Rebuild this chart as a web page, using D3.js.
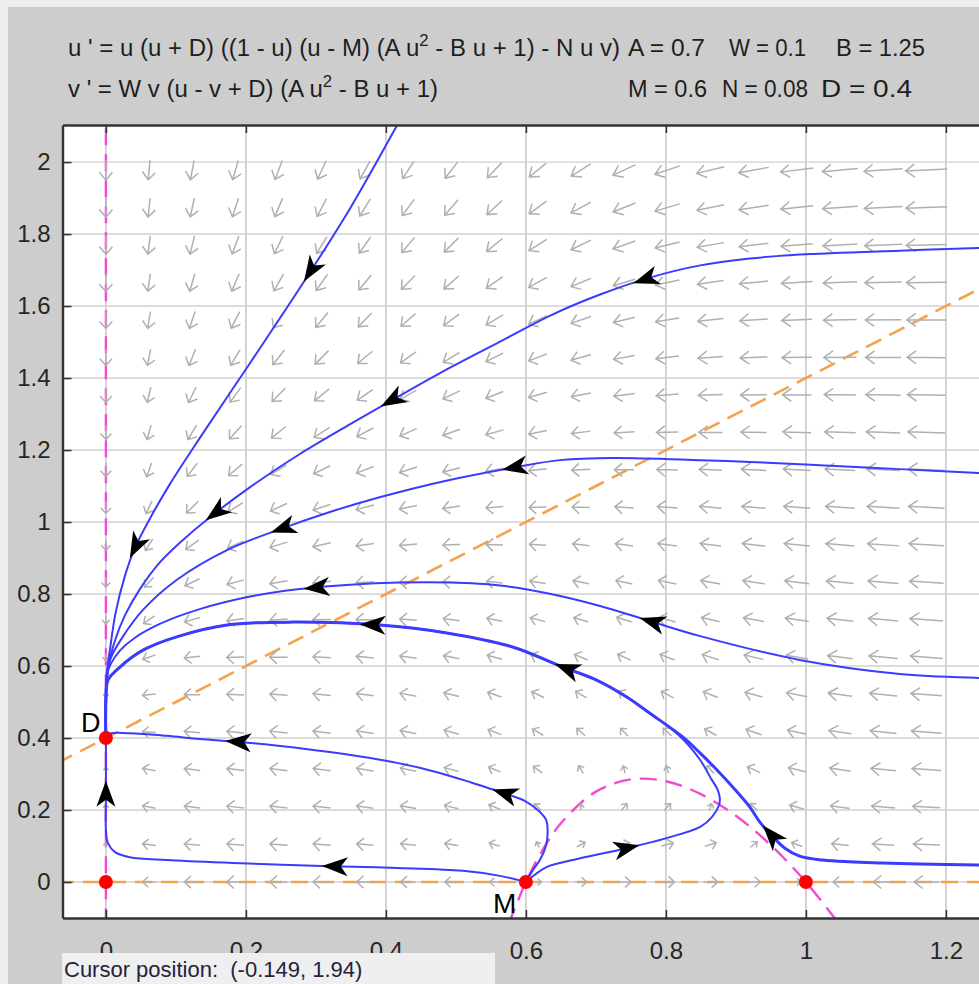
<!DOCTYPE html>
<html>
<head>
<meta charset="utf-8">
<script src="https://cdn.jsdelivr.net/npm/d3@7"></script>
<style>
  body { margin: 0; background: #fff; }
  svg { display: block; font-family: "Liberation Sans", Arial, sans-serif; }
</style>
</head>
<body>
<svg width="979" height="984"></svg>
<script>
// model parameters (as printed in the header)
const A = 0.7, W = 0.1, B = 1.25, M = 0.6, N = 0.08, D = 0.4;
const paramsRow1 = [["A", "0.7"], ["W", "0.1"], ["B", "1.25"]];
const paramsRow2 = [["M", "0.6"], ["N", "0.08"], ["D", "0.4"]];

const xTicks = [0, 0.2, 0.4, 0.6, 0.8, 1, 1.2];
const yTicks = [0, 0.2, 0.4, 0.6, 0.8, 1, 1.2, 1.4, 1.6, 1.8, 2];

// equilibria
const equilibria = [
  {u: 0, v: 0, label: ""},
  {u: 0, v: 0.4, label: "D"},
  {u: 0.6, v: 0, label: "M"},
  {u: 1, v: 0, label: ""}
];

// nullclines
const uNullAxis = [[0, -0.12], [0, 2.12]];
const uNullCurve = [[0.575, -0.118], [0.6, 0], [0.62, 0.076], [0.65, 0.163], [0.7, 0.251],
  [0.75, 0.285], [0.8, 0.28], [0.85, 0.244], [0.9, 0.184], [0.95, 0.102], [1.0, 0], [1.05, -0.123]];
const vNullAxis = [[-0.07, 0], [1.27, 0]];
const vNullLine = [[-0.07, 0.33], [1.27, 1.67]];

// solution curves (u, v), in the direction of flow
const traj1 = [[0.424, 2.131], [0.417, 2.106], [0.349, 1.872], [0.277, 1.65], [0.206, 1.442], [0.134, 1.233],
  [0.091, 1.104], [0.063, 1.01], [0.041, 0.926], [0.027, 0.849], [0.014, 0.749], [0.006, 0.649],
  [0.001, 0.575], [0, 0.506], [0, 0.4]];
const traj2 = [[1.27, 1.762], [1.247, 1.761], [1.134, 1.754], [0.991, 1.743], [0.92, 1.732], [0.849, 1.713],
  [0.777, 1.679], [0.706, 1.632], [0.634, 1.573], [0.563, 1.501], [0.491, 1.428],
  [0.42, 1.351], [0.349, 1.272], [0.277, 1.189], [0.206, 1.097], [0.149, 1.014], [0.106, 0.943],
  [0.077, 0.888], [0.049, 0.815], [0.027, 0.74], [0.013, 0.671], [0.004, 0.604], [0.001, 0.533],
  [0, 0.478], [0, 0.4]];
const traj3 = [[1.27, 1.134], [1.247, 1.136], [1.134, 1.147], [1.02, 1.158], [0.92, 1.167], [0.849, 1.172],
  [0.724, 1.178], [0.649, 1.172], [0.587, 1.153], [0.491, 1.117], [0.391, 1.069], [0.32, 1.028],
  [0.253, 0.983], [0.173, 0.922], [0.101, 0.839], [0.053, 0.756], [0.024, 0.681], [0.006, 0.617],
  [0, 0.533], [0, 0.4]];
const traj4 = [[1.27, 0.566], [1.247, 0.567], [1.134, 0.578], [0.991, 0.617], [0.849, 0.683], [0.777, 0.725],
  [0.706, 0.767], [0.634, 0.801], [0.563, 0.824], [0.491, 0.832], [0.42, 0.832], [0.349, 0.826],
  [0.277, 0.814], [0.206, 0.793], [0.134, 0.758], [0.077, 0.717], [0.041, 0.678], [0.02, 0.643],
  [0.007, 0.606], [0.001, 0.572], [0, 0.506], [0, 0.4]];
const bundle = [[0.777, 0.469], [0.744, 0.514], [0.701, 0.561], [0.653, 0.597], [0.581, 0.653],
  [0.487, 0.692], [0.391, 0.714], [0.267, 0.722], [0.173, 0.714], [0.101, 0.681], [0.053, 0.644],
  [0.02, 0.597], [0.003, 0.561], [0, 0.506], [0, 0.4]];
const traj7 = [[0.6, 0], [0.61, 0.033], [0.62, 0.061], [0.629, 0.103], [0.631, 0.139], [0.629, 0.172],
  [0.617, 0.2], [0.599, 0.225], [0.573, 0.244], [0.524, 0.275], [0.477, 0.303], [0.416, 0.331],
  [0.32, 0.361], [0.249, 0.378], [0.191, 0.389], [0.134, 0.397], [0.087, 0.406], [0.034, 0.413],
  [0.006, 0.412], [0, 0.4]];
const traj8 = [[0.6, 0], [0.563, 0.017], [0.51, 0.031], [0.416, 0.039], [0.32, 0.044], [0.181, 0.053],
  [0.087, 0.061], [0.034, 0.069], [0.013, 0.083], [0.003, 0.108], [0, 0.144], [0, 0.228], [0, 0.339], [0, 0.4]];
const traj9 = [[0.6, 0], [0.63, 0.042], [0.667, 0.061], [0.744, 0.094], [0.801, 0.122], [0.849, 0.153],
  [0.866, 0.181], [0.876, 0.214], [0.877, 0.233], [0.874, 0.256], [0.864, 0.289], [0.849, 0.339], [0.82, 0.405]];
const traj10 = [[1.27, 0.046], [1.247, 0.047], [1.163, 0.05], [1.11, 0.053], [1.063, 0.056], [1.024, 0.061],
  [0.991, 0.072], [0.97, 0.094], [0.953, 0.125], [0.934, 0.167], [0.92, 0.208], [0.899, 0.256],
  [0.873, 0.311], [0.849, 0.358], [0.824, 0.403]];

// where the black direction arrows sit
const arrowMarks = [
  {t: "t1", u: 0.3, v: 1.69}, {t: "t1", u: 0.045, v: 0.93},
  {t: "t2", u: 0.77, v: 1.68}, {t: "t2", u: 0.41, v: 1.335}, {t: "t2", u: 0.157, v: 1.028},
  {t: "t3", u: 0.584, v: 1.153}, {t: "t3", u: 0.253, v: 0.983},
  {t: "t4", u: 0.78, v: 0.72}, {t: "t4", u: 0.301, v: 0.82},
  {t: "t10", u: 0.381, v: 0.714}, {t: "t10", u: 0.659, v: 0.594},
  {t: "t7", u: 0.57, v: 0.247}, {t: "t7", u: 0.189, v: 0.389},
  {t: "t8", u: 0.327, v: 0.04}, {t: "t8", u: 0, v: 0.245},
  {t: "t9", u: 0.744, v: 0.094}, {t: "t10", u: 0.951, v: 0.13}
];

// curve table: the two lower-right curves run on into the common bundle
const curves = [
  {id: "t1", pts: traj1, w: 2}, {id: "t2", pts: traj2, w: 2}, {id: "t3", pts: traj3, w: 2},
  {id: "t4", pts: traj4, w: 2}, {id: "t7", pts: traj7, w: 2}, {id: "t8", pts: traj8, w: 2},
  {id: "t9", pts: traj9.concat(bundle), w: 2}, {id: "t10", pts: traj10.concat(bundle), w: 3}
];

const svg = d3.select("svg");
const x = d3.scaleLinear().domain([-0.062, 1.263]).range([62.5, 990]);
const y = d3.scaleLinear().domain([-0.1, 2.103]).range([918, 125]);
const [x0, x1] = x.range(), [y1, y0] = y.range();

svg.append("rect").attr("width", 979).attr("height", 984).attr("fill", "#eeeeee");
svg.append("rect").attr("x", 8).attr("y", 7).attr("width", 971).attr("height", 977).attr("fill", "#cdcdcd");
svg.append("rect").attr("x", x0).attr("y", y0).attr("width", x1 - x0).attr("height", y1 - y0).attr("fill", "#fff");

svg.append("clipPath").attr("id", "clip")
  .append("rect").attr("x", x0).attr("y", y0).attr("width", x1 - x0).attr("height", y1 - y0);

const plot = svg.append("g").attr("clip-path", "url(#clip)");

// grid
plot.append("g").selectAll("line").data(xTicks).join("line")
  .attr("x1", d => x(d)).attr("x2", d => x(d)).attr("y1", y0).attr("y2", y1)
  .attr("stroke", "#c2c2c2").attr("stroke-width", 1.4);
plot.append("g").selectAll("line").data(yTicks).join("line")
  .attr("y1", d => y(d)).attr("y2", d => y(d)).attr("x1", x0).attr("x2", x1)
  .attr("stroke", "#d0d0d0").attr("stroke-width", 1.4);

// nullclines
const line = d3.line().x(d => x(d[0])).y(d => y(d[1]));
const smooth = d3.line().x(d => x(d[0])).y(d => y(d[1])).curve(d3.curveCatmullRom.alpha(0.5));
[uNullAxis, uNullCurve].forEach(d => plot.append("path").datum(d)
  .attr("d", d.length > 2 ? smooth : line).attr("fill", "none")
  .attr("stroke", "#f04ccf").attr("stroke-width", 2.4).attr("stroke-dasharray", "17,9"));
[vNullAxis, vNullLine].forEach(d => plot.append("path").datum(d)
  .attr("d", line).attr("fill", "none")
  .attr("stroke", "#f5a24f").attr("stroke-width", 2.6).attr("stroke-dasharray", "17,9"));

// direction field of the system in the header
function field(u, v) {
  const q = A * u * u - B * u + 1;
  return [u * (u + D) * ((1 - u) * (u - M) * q - N * u * v), W * v * (u - v + D) * q];
}
const fieldU = d3.range(20).map(j => j * 0.0617);
const fieldV = d3.range(20).map(k => k * 0.1041);
const vecs = [];
fieldU.forEach(u => fieldV.forEach(v => {
  const [du, dv] = field(u, v);
  const sx = x(du) - x(0), sy = y(dv) - y(0);
  const s = Math.hypot(sx, sy);
  if (s < 1e-6) return;
  const len = Math.min(42, 42 * Math.pow(Math.hypot(sx, 0.3 * sy) / 306, 0.33));
  vecs.push({cx: x(u), cy: y(v), ux: sx / s, uy: sy / s, len});
}));
plot.append("g").attr("fill", "none").attr("stroke", "#b0b0b0").attr("stroke-width", 1.5)
  .selectAll("path").data(vecs).join("path")
  .attr("d", d => {
    const tx = d.cx + d.ux * d.len / 2, ty = d.cy + d.uy * d.len / 2;
    const bx = d.cx - d.ux * d.len / 2, by = d.cy - d.uy * d.len / 2;
    const h = Math.min(9, 1.5 + 0.32 * d.len), w = Math.min(6.5, 1.3 + 0.3 * d.len);
    const hx = tx - d.ux * h, hy = ty - d.uy * h;
    return `M${bx},${by}L${tx},${ty}M${hx - d.uy * w},${hy + d.ux * w}L${tx},${ty}L${hx + d.uy * w},${hy - d.ux * w}`;
  });

// solution curves
curves.forEach(c => {
  plot.append("path").datum(c.pts)
    .attr("d", smooth).attr("fill", "none")
    .attr("stroke", "#3b3bff").attr("stroke-width", c.w)
    .attr("stroke-linejoin", "round");
});

// arrowheads along the curves
const byId = Object.fromEntries(curves.map(c => [c.id, c.pts]));
arrowMarks.forEach(m => {
  const pts = byId[m.t].map(d => [x(d[0]), y(d[1])]);
  const px = x(m.u), py = y(m.v);
  let best = null;
  for (let i = 0; i < pts.length - 1; i++) {
    const [ax, ay] = pts[i], [bx, by] = pts[i + 1];
    const dx = bx - ax, dy = by - ay, L2 = dx * dx + dy * dy;
    if (L2 === 0) continue;
    const t = Math.max(0, Math.min(1, ((px - ax) * dx + (py - ay) * dy) / L2));
    const qx = ax + t * dx, qy = ay + t * dy;
    const dist = Math.hypot(px - qx, py - qy);
    if (!best || dist < best.dist) best = {dist, qx, qy, ang: Math.atan2(dy, dx) * 180 / Math.PI};
  }
  plot.append("path")
    .attr("d", "M13,0L-13,-9.5L-6,0L-13,9.5Z")
    .attr("transform", `translate(${best.qx},${best.qy}) rotate(${best.ang})`)
    .attr("fill", "#000");
});

// equilibria
plot.append("g").selectAll("circle").data(equilibria).join("circle")
  .attr("cx", d => x(d.u)).attr("cy", d => y(d.v)).attr("r", 7).attr("fill", "#ff0000");
svg.append("text").attr("x", x(0) - 25).attr("y", y(0.4) - 6).attr("font-size", 27).attr("fill", "#000")
  .text(equilibria[1].label);
svg.append("text").attr("x", x(0.6) - 33).attr("y", y(0) + 31).attr("font-size", 28).attr("fill", "#000")
  .text(equilibria[2].label);

// axes
const fmt = d3.format("~g");
const gy = svg.append("g").attr("transform", `translate(${x0},0)`)
  .call(d3.axisLeft(y).tickValues(yTicks).tickFormat(fmt).tickSizeInner(-9).tickSizeOuter(0).tickPadding(12));
const gx = svg.append("g").attr("transform", `translate(0,${y1})`)
  .call(d3.axisBottom(x).tickValues(xTicks).tickFormat(fmt).tickSizeInner(-8).tickSizeOuter(0).tickPadding(24));
const gt = svg.append("g").attr("transform", `translate(0,${y0})`)
  .call(d3.axisTop(x).tickValues(xTicks).tickFormat("").tickSizeInner(-8).tickSizeOuter(0));
[gx, gy, gt].forEach(g => {
  g.selectAll(".domain").attr("stroke", "#333").attr("stroke-width", 2.4);
  g.selectAll(".tick line").attr("stroke", "#333").attr("stroke-width", 1.6);
  g.selectAll("text").attr("font-size", 24).attr("fill", "#262626").attr("font-family", null);
});

// header
const head = svg.append("g").attr("font-size", 23).attr("fill", "#1e1e1e");
const e1 = head.append("text").attr("x", 68).attr("y", 56)
  .attr("textLength", 552).attr("lengthAdjust", "spacingAndGlyphs");
e1.append("tspan").text("u ' = u (u + D) ((1 - u) (u - M) (A u");
e1.append("tspan").attr("dy", -10).attr("font-size", 16).text("2");
e1.append("tspan").attr("dy", 10).text(" - B u + 1) - N u v)");
const e2 = head.append("text").attr("x", 68).attr("y", 97)
  .attr("textLength", 370).attr("lengthAdjust", "spacingAndGlyphs");
e2.append("tspan").text("v ' = W v (u - v + D) (A u");
e2.append("tspan").attr("dy", -10).attr("font-size", 16).text("2");
e2.append("tspan").attr("dy", 10).text(" - B u + 1)");
const row1X = [628, 729, 836], row1W = [77, 77, 89];
const row2X = [628, 722, 821], row2W = [79, 86, 91];
paramsRow1.forEach((p, i) => head.append("text").attr("x", row1X[i]).attr("y", 56)
  .attr("textLength", row1W[i]).attr("lengthAdjust", "spacingAndGlyphs").text(`${p[0]} = ${p[1]}`));
paramsRow2.forEach((p, i) => head.append("text").attr("x", row2X[i]).attr("y", 97)
  .attr("textLength", row2W[i]).attr("lengthAdjust", "spacingAndGlyphs").text(`${p[0]} = ${p[1]}`));

// status bar
svg.append("rect").attr("x", 62).attr("y", 953).attr("width", 433).attr("height", 31).attr("fill", "#efefef");
svg.append("text").attr("x", 64).attr("y", 977).attr("font-size", 22).attr("fill", "#1f2340")
  .style("white-space", "pre")
  .text("Cursor position:  (-0.149, 1.94)");
</script>
</body>
</html>
